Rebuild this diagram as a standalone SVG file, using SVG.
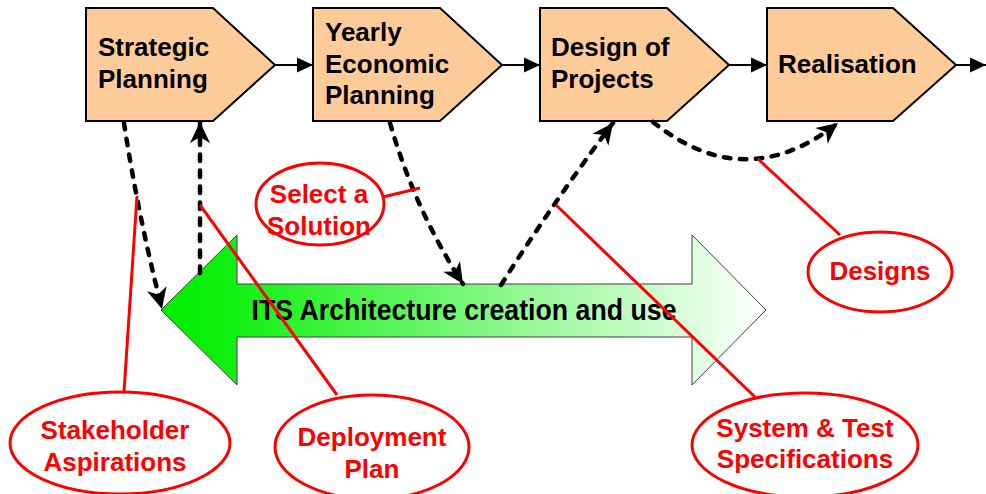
<svg xmlns="http://www.w3.org/2000/svg" width="986" height="494" viewBox="0 0 986 494">
<defs>
<style>
.box{fill:#FFCC99;stroke:#000;stroke-width:2}
.bt{font-family:"Liberation Sans",Arial,sans-serif;font-weight:bold;font-size:26px;fill:#000}
.el{fill:#fff;stroke:#f00;stroke-width:3}
.rt{font-family:"Liberation Sans",Arial,sans-serif;font-weight:bold;font-size:26px;fill:#f00;text-anchor:middle}
.flow{stroke:#000;stroke-width:2;fill:none;marker-end:url(#ah)}
.dash{stroke:#000;stroke-width:4.5;fill:none;stroke-dasharray:6.5 9.5;stroke-linecap:round;marker-end:url(#dh)}
.red{stroke:#f00;stroke-width:3;fill:none}
</style>
<marker id="ah" markerUnits="userSpaceOnUse" viewBox="-16 -8 16 16" refX="0" refY="0" markerWidth="16" markerHeight="16" orient="auto">
<path d="M0,0 L-16,-7.5 L-16,7.5 Z" fill="#000"/>
</marker>
<marker id="dh" markerUnits="userSpaceOnUse" viewBox="-22 -11 22 22" refX="0" refY="0" markerWidth="22" markerHeight="22" orient="auto">
<path d="M0,0 L-21,-10 L-15,0 L-21,10 Z" fill="#000"/>
</marker>
<linearGradient id="g" gradientUnits="userSpaceOnUse" x1="160" y1="0" x2="766" y2="0">
<stop offset="0" stop-color="#00ee00"/>
<stop offset="0.1" stop-color="#0cf00c"/>
<stop offset="1" stop-color="#ffffff"/>
</linearGradient>
</defs>
<rect width="986" height="494" fill="#fff"/>

<g id="big-arrow">
<polygon points="161,310 237,235 237,284 692,284 692,235 766,310 692,385 692,337 237,337 237,385" fill="url(#g)" stroke="#404040" stroke-width="1"/>
<text x="464" y="320" font-family="'Liberation Sans',Arial,sans-serif" font-weight="bold" font-size="29" text-anchor="middle" textLength="425" lengthAdjust="spacingAndGlyphs">ITS Architecture creation and use</text>
</g>

<g id="strategic-planning">
<polygon class="box" points="86,8 213,8 275,65 213,121 86,121"/>
<text class="bt" x="98" y="56">Strategic</text>
<text class="bt" x="98" y="88">Planning</text>
</g>
<g id="yearly-economic-planning">
<polygon class="box" points="313,8 440,8 502,65 440,121 313,121"/>
<text class="bt" x="325" y="41">Yearly</text>
<text class="bt" x="325" y="73">Economic</text>
<text class="bt" x="325" y="104">Planning</text>
</g>
<g id="design-of-projects">
<polygon class="box" points="540,8 667,8 729,65 667,121 540,121"/>
<text class="bt" x="551" y="56">Design of</text>
<text class="bt" x="551" y="88">Projects</text>
</g>
<g id="realisation">
<polygon class="box" points="767,8 893,8 956,65 893,121 767,121"/>
<text class="bt" x="778" y="73">Realisation</text>
</g>

<g id="connectors">
<path class="flow" d="M275,65 L313,65"/>
<path class="flow" d="M502,65 L540,65"/>
<path class="flow" d="M729,65 L767,65"/>
<path class="flow" d="M956,65 L986,65"/>
<path class="dash" d="M124,123 Q138,215 162,309"/>
<path class="dash" d="M200,273 L200,122"/>
<path class="dash" d="M390,123 Q415,210 463,284"/>
<path class="dash" d="M501,285 Q555,200 613,123"/>
<path class="dash" d="M653,122 Q745,196 838,123"/>
<path class="red" d="M137,196 L124,392"/>
<path class="red" d="M200,205 L337,395"/>
<path class="red" d="M383,197 L420,188"/>
<path class="red" d="M758,159 L840,235"/>
<path class="red" d="M556,205 L755,397"/>
</g>

<g id="select-a-solution">
<ellipse class="el" cx="320" cy="204" rx="64" ry="41"/>
<text class="rt" x="319" y="203">Select a</text>
<text class="rt" x="319" y="235">Solution</text>
</g>
<g id="designs">
<ellipse class="el" cx="880" cy="272" rx="72" ry="40"/>
<text class="rt" x="880" y="280">Designs</text>
</g>
<g id="stakeholder-aspirations">
<ellipse class="el" cx="120" cy="443" rx="110" ry="51"/>
<text class="rt" x="115" y="439">Stakeholder</text>
<text class="rt" x="115" y="471">Aspirations</text>
</g>
<g id="deployment-plan">
<ellipse class="el" cx="372" cy="447" rx="97" ry="52"/>
<text class="rt" x="372" y="446">Deployment</text>
<text class="rt" x="372" y="478">Plan</text>
</g>
<g id="system-test-specifications">
<ellipse class="el" cx="805" cy="445" rx="113" ry="52"/>
<text class="rt" x="805" y="437">System &amp; Test</text>
<text class="rt" x="805" y="468">Specifications</text>
</g>
</svg>
